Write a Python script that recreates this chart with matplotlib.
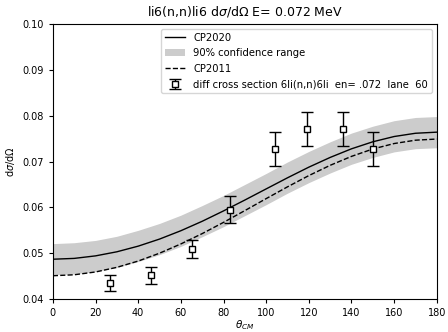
import matplotlib
matplotlib.use('Agg')
import matplotlib.pyplot as plt
import numpy as np

theta = [0, 10, 20, 30, 40, 50, 60, 70, 80, 90, 100, 110, 120, 130, 140, 150, 160, 170, 180]
cp2020 = [0.0487, 0.04888, 0.04943, 0.05032, 0.05155, 0.05309, 0.05491, 0.05697, 0.05923, 0.0616,
          0.06403, 0.06645, 0.06877, 0.07089, 0.07277, 0.0743, 0.07545, 0.07616, 0.0764]
band_lo = [0.0453, 0.0455, 0.0460, 0.0469, 0.0482, 0.0497, 0.0515, 0.0536, 0.0558, 0.0582,
           0.0606, 0.0631, 0.0654, 0.0675, 0.0694, 0.0709, 0.0721, 0.0728, 0.0730]
band_hi = [0.0521, 0.0523, 0.0528, 0.0537, 0.0550, 0.0565, 0.0583, 0.0604, 0.0626, 0.0650,
           0.0674, 0.0699, 0.0722, 0.0743, 0.0762, 0.0777, 0.0789, 0.0796, 0.0798]
cp2011 = [0.0451, 0.04531, 0.04592, 0.04693, 0.0483, 0.05001, 0.05203, 0.05428, 0.05673, 0.0593,
          0.06191, 0.06448, 0.06693, 0.06917, 0.07112, 0.07273, 0.07392, 0.07465, 0.0749]

exp_theta = [27, 46, 65, 83, 104, 119, 136, 150]
exp_val = [0.0435, 0.0452, 0.0509, 0.0595, 0.0727, 0.0771, 0.0771, 0.0727]
exp_err = [0.0017, 0.0018, 0.0019, 0.0030, 0.0037, 0.0038, 0.0038, 0.0037]

fig, ax = plt.subplots(figsize=(4.48, 3.32), dpi=100)
fig.subplots_adjust(left=0.118, right=0.975, top=0.928, bottom=0.099)

ax.plot(theta, cp2020, color='black', lw=1.0, label='CP2020')
ax.fill_between(theta, band_lo, band_hi, color='#cccccc', lw=0, label='90% confidence range')
ax.plot(theta, cp2011, color='black', lw=1.0, ls='--', label='CP2011')
ax.errorbar(exp_theta, exp_val, yerr=exp_err, fmt='s', color='black', mfc='white',
            ms=5, capsize=4, elinewidth=1, mew=1,
            label='diff cross section 6li(n,n)6li  en= .072  lane  60')

ax.set_xlim(0, 180)
ax.set_ylim(0.04, 0.10)
ax.tick_params(labelsize=7, length=3)
ax.set_xlabel(r'$\theta_{CM}$', fontsize=7.5, labelpad=0)
ax.set_ylabel(r'd$\sigma$/d$\Omega$', fontsize=7)
ax.set_title(r'li6(n,n)li6 d$\sigma$/d$\Omega$ E= 0.072 MeV', fontsize=9)
ax.legend(loc='upper right', fontsize=7.2, labelspacing=0.55)

fig.savefig('out.png')
